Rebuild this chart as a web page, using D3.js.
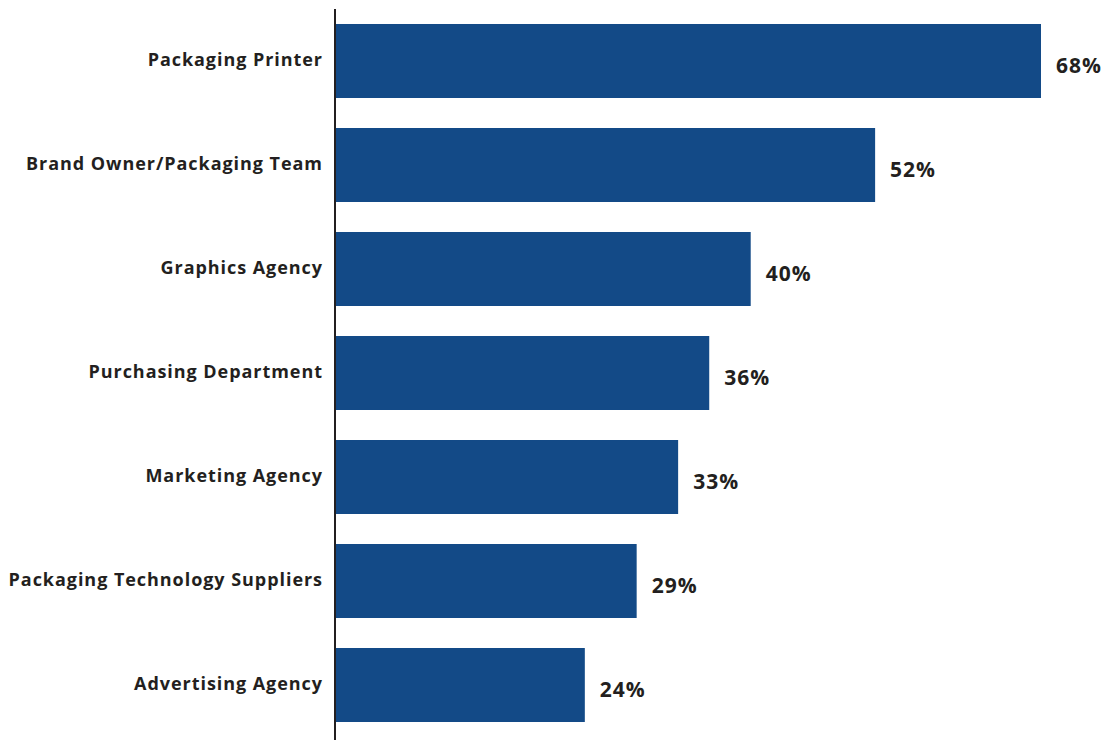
<!DOCTYPE html>
<html><head><meta charset="utf-8">
<script src="https://cdn.jsdelivr.net/npm/d3@7"></script>
<style>html,body{margin:0;padding:0;background:#fff;}</style>
</head><body>
<svg id="c" width="1111" height="740"></svg>
<script>
const categories = ["Packaging Printer","Brand Owner/Packaging Team","Graphics Agency","Purchasing Department","Marketing Agency","Packaging Technology Suppliers","Advertising Agency"];
const values = [68,52,40,36,33,29,24];
const valueLabels = ["68%","52%","40%","36%","33%","29%","24%"];

const svg = d3.select("#c");
const x = d3.scaleLinear().domain([0,68]).range([336,1041]);
const y = d3.scaleBand().domain(categories).range([9,737]).paddingInner(0.2885).paddingOuter(0.1442);

svg.selectAll("rect.bar").data(categories).join("rect")
  .attr("class","bar")
  .attr("x", x(0))
  .attr("y", d=>y(d))
  .attr("width", (d,i)=>x(values[i])-x(0))
  .attr("height", y.bandwidth())
  .attr("fill","#134a87");

svg.append("line").attr("x1",335).attr("x2",335).attr("y1",9).attr("y2",740)
  .attr("stroke","#231f20").attr("stroke-width",2);

svg.selectAll("text.cat").data(categories).join("text")
  .attr("class","cat")
  .attr("x",323)
  .attr("y", d=>y(d)+y.bandwidth()/2-1)
  .attr("dy","0.35em")
  .attr("text-anchor","end")
  .attr("font-family","'Open Sans', sans-serif")
  .attr("font-weight","bold")
  .attr("font-size","18px")
  .attr("letter-spacing","0.95px")
  .attr("fill","#231f20")
  .text(d=>d);

svg.selectAll("text.val").data(categories).join("text")
  .attr("class","val")
  .attr("x",(d,i)=>x(values[i])+15)
  .attr("y", d=>y(d)+y.bandwidth()/2+5)
  .attr("dy","0.35em")
  .attr("font-family","'Open Sans', sans-serif")
  .attr("font-weight","bold")
  .attr("font-size","21px")
  .attr("letter-spacing","1px")
  .attr("fill","#231f20")
  .text((d,i)=>valueLabels[i]);
</script>
</body></html>
